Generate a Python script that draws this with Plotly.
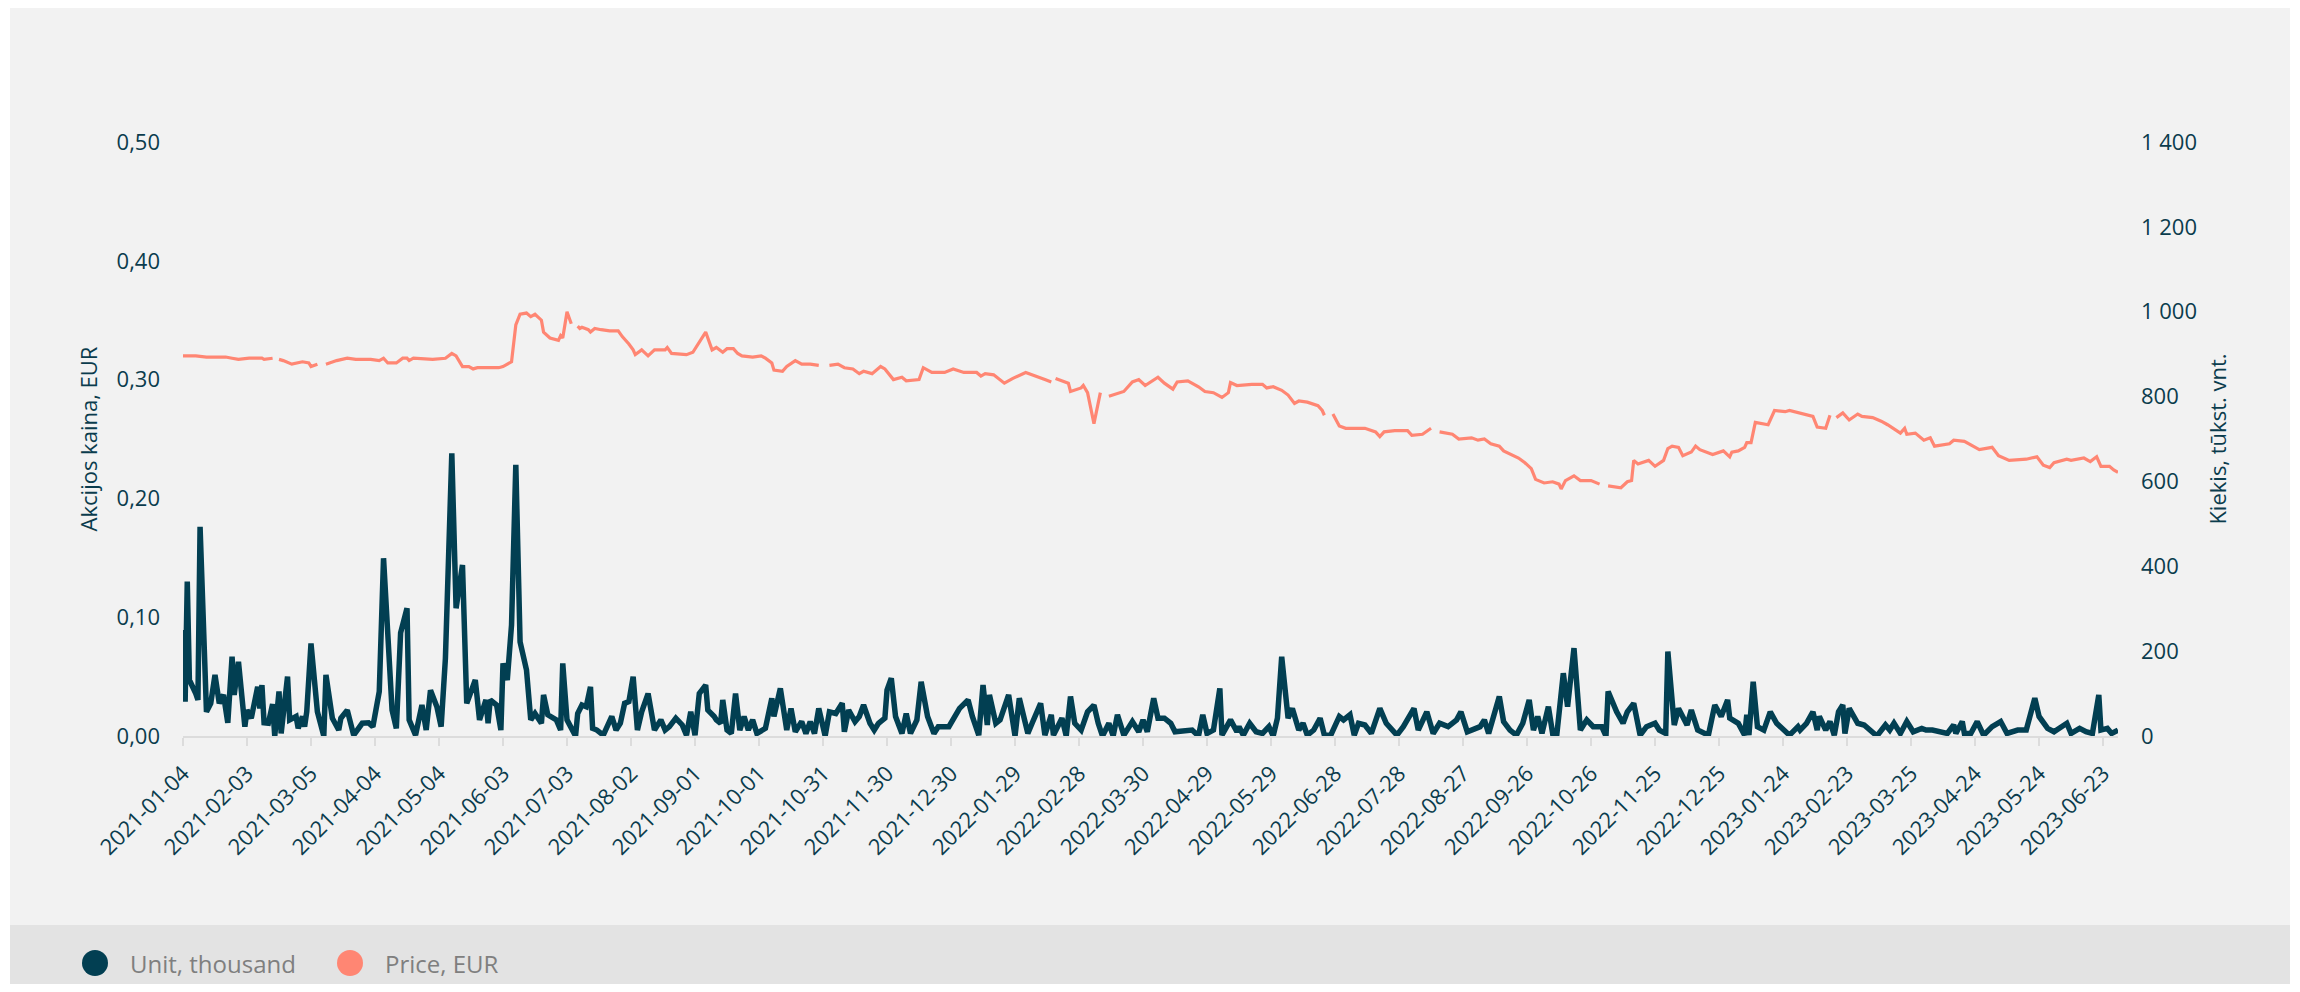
import pandas as pd
import plotly.graph_objects as go

# ---------------- data ----------------
START = "2021-01-04"

# Price, EUR  (day offset from START, value; None = no trade / gap)
price_day = [0, 6, 11, 20, 23, 26, 31, 37, 38, 42, 43, 45, 47, 51, 56, 59, 60, 63, 66, 67,
             72, 77, 81, 88, 92, 94, 96, 100, 103, 105, 106, 108, 117, 123, 126, 128, 131, 134, 136, 138,
             142, 148, 150, 154, 156, 158, 161, 163, 165, 168, 169, 172, 176, 177, 178, 180, 182, 183, 185, 186,
             187, 190, 191, 193, 196, 200, 204, 206, 209, 211, 212, 214, 215, 218, 221, 226, 227, 229, 236, 239,
             243, 245, 248, 250, 253, 255, 258, 260, 262, 267, 271, 273, 276, 277, 281, 283, 287, 290, 294, 298,
             300, 303, 307, 310, 314, 317, 319, 323, 327, 329, 333, 337, 339, 345, 347, 351, 357, 361, 366, 372,
             374, 376, 380, 385, 389, 395, 400, 404, 407, 408, 409, 415, 416, 421, 422, 424, 427, 430, 432, 434,
             441, 445, 448, 451, 457, 460, 464, 466, 471, 476, 479, 483, 487, 490, 491, 494, 501, 506, 508, 511,
             515, 518, 521, 523, 527, 532, 534, 535, 537, 539, 542, 545, 548, 550, 554, 559, 561, 563, 568, 574,
             576, 581, 584, 585, 587, 589, 595, 598, 604, 607, 610, 613, 617, 619, 626, 629, 632, 634, 638, 642,
             645, 646, 648, 652, 655, 660, 664, 666, 668, 674, 677, 679, 680, 682, 687, 690, 694, 696, 698, 701,
             703, 707, 709, 711, 717, 722, 725, 726, 729, 732, 733, 735, 737, 743, 746, 751, 753, 757, 764, 766,
             770, 772, 773, 775, 778, 781, 785, 787, 792, 796, 799, 805, 807, 808, 812, 816, 819, 821, 828, 830,
             835, 842, 848, 851, 856, 864, 869, 872, 875, 877, 883, 885, 891, 894, 897, 899, 903, 905, 907]
price_val = [0.320, 0.320, 0.319, 0.319, 0.318, 0.317, 0.318, 0.318, 0.317, 0.318, None, 0.317, 0.316, 0.313, 0.315, 0.314, 0.311, 0.313, None, 0.313,
             0.316, 0.318, 0.317, 0.317, 0.316, 0.318, 0.314, 0.314, 0.318, 0.318, 0.316, 0.318, 0.317, 0.318, 0.322, 0.320, 0.311, 0.311, 0.309, 0.310,
             0.310, 0.310, 0.311, 0.315, 0.346, 0.355, 0.356, 0.353, 0.355, 0.350, 0.340, 0.335, 0.333, 0.337, 0.335, 0.357, 0.347, None, 0.345, 0.343,
             0.344, 0.342, 0.340, 0.343, 0.342, 0.341, 0.341, 0.336, 0.330, 0.325, 0.321, 0.324, 0.325, 0.320, 0.325, 0.325, 0.327, 0.322, 0.321, 0.323,
             0.335, 0.340, 0.325, 0.327, 0.323, 0.326, 0.326, 0.322, 0.320, 0.319, 0.320, 0.318, 0.314, 0.308, 0.307, 0.311, 0.316, 0.313, 0.313, 0.312,
             None, 0.312, 0.313, 0.310, 0.309, 0.305, 0.307, 0.305, 0.311, 0.309, 0.300, 0.302, 0.299, 0.300, 0.310, 0.306, 0.306, 0.309, 0.306, 0.306,
             0.303, 0.305, 0.304, 0.297, 0.301, 0.306, 0.303, 0.300, 0.298, None, 0.301, 0.297, 0.290, 0.293, 0.295, 0.289, 0.263, 0.289, None, 0.286,
             0.290, 0.298, 0.300, 0.295, 0.302, 0.297, 0.292, 0.298, 0.299, 0.294, 0.290, 0.289, 0.285, 0.289, 0.2975, 0.295, 0.296, 0.296, 0.293, 0.294,
             0.291, 0.287, 0.280, 0.282, 0.281, 0.278, 0.274, 0.270, None, 0.271, 0.261, 0.259, 0.259, 0.2595, 0.259, 0.256, 0.252, 0.256, 0.257, 0.257,
             0.253, 0.254, 0.258, 0.259, None, 0.256, 0.254, 0.250, 0.251, 0.249, 0.250, 0.246, 0.244, 0.240, 0.234, 0.230, 0.225, 0.216, 0.213, 0.214,
             0.212, 0.208, 0.215, 0.219, 0.215, 0.215, 0.212, None, 0.2105, 0.209, 0.214, 0.215, 0.232, 0.229, 0.232, 0.227, 0.232, 0.242, 0.244, 0.243,
             0.236, 0.239, 0.244, 0.241, 0.237, 0.240, 0.235, 0.239, 0.240, 0.243, 0.247, 0.247, 0.264, 0.262, 0.274, 0.273, 0.274, 0.272, 0.269, 0.260,
             0.259, 0.270, None, 0.268, 0.272, 0.266, 0.271, 0.269, 0.268, 0.265, 0.262, 0.255, 0.259, 0.254, 0.255, 0.249, 0.251, 0.244, 0.246, 0.249,
             0.248, 0.241, 0.243, 0.236, 0.232, 0.233, 0.235, 0.228, 0.226, 0.230, 0.233, 0.232, 0.234, 0.231, 0.235, 0.227, 0.227, 0.224, 0.222]

# Unit, thousand (traded volume)
vol_day = [0, 1, 2, 3, 6, 7, 8, 10, 11, 13, 15, 17, 19, 21, 23, 24, 26, 29, 30, 32,
           35, 36, 37, 38, 40, 42, 43, 45, 46, 49, 50, 53, 54, 56, 57, 58, 60, 63, 65, 66,
           67, 70, 73, 74, 77, 79, 80, 84, 87, 89, 92, 94, 96, 98, 100, 102, 105, 106, 109, 112,
           114, 116, 119, 121, 123, 126, 128, 131, 133, 137, 139, 142, 143, 144, 147, 149, 150, 152, 154, 156,
           158, 161, 163, 165, 168, 169, 171, 175, 177, 178, 180, 184, 185, 187, 189, 191, 192, 194, 197, 200,
           201, 203, 205, 207, 209, 211, 213, 215, 218, 221, 224, 226, 228, 231, 234, 236, 238, 240, 242, 245,
           246, 249, 250, 252, 253, 255, 257, 259, 261, 263, 265, 267, 269, 273, 275, 276, 277, 280, 283, 285,
           287, 290, 292, 294, 296, 298, 301, 303, 306, 309, 310, 312, 315, 317, 319, 322, 324, 326, 329, 330,
           332, 334, 337, 339, 341, 344, 346, 349, 352, 354, 359, 364, 368, 370, 373, 375, 377, 378, 381, 383,
           387, 390, 392, 396, 398, 402, 404, 407, 408, 412, 414, 416, 418, 421, 424, 427, 429, 431, 434, 436,
           438, 441, 445, 448, 450, 452, 455, 457, 460, 463, 465, 473, 476, 478, 480, 483, 486, 487, 491, 494,
           495, 497, 500, 503, 506, 509, 511, 513, 515, 518, 520, 523, 525, 527, 530, 533, 535, 538, 542, 544,
           547, 549, 551, 554, 557, 561, 564, 569, 572, 577, 579, 583, 586, 589, 593, 597, 599, 602, 608, 610,
           612, 617, 619, 622, 625, 628, 631, 633, 635, 637, 640, 642, 644, 645, 647, 649, 652, 655, 658, 661,
           665, 667, 668, 672, 675, 677, 680, 683, 686, 690, 692, 695, 696, 699, 701, 705, 707, 710, 715, 718,
           721, 724, 725, 729, 732, 733, 734, 736, 738, 741, 744, 747, 750, 753, 757, 758, 761, 764, 766, 767,
           770, 772, 774, 776, 778, 779, 781, 783, 785, 788, 791, 794, 798, 800, 802, 805, 808, 811, 815, 817,
           820, 824, 827, 830, 831, 834, 835, 838, 841, 844, 848, 852, 855, 860, 864, 868, 870, 874, 877, 883,
           885, 889, 892, 895, 898, 899, 902, 904, 906, 907]
vol_val = [250, 81, 364, 132, 100, 85, 493, 179, 57, 77, 144, 77, 97, 31, 187, 97, 175, 22, 61, 42,
           116, 65, 120, 31, 30, 75, 0, 105, 6, 140, 38, 46, 18, 46, 22, 57, 218, 57, 14, 0,
           144, 42, 14, 42, 61, 14, 2, 30, 31, 22, 105, 419, 250, 61, 18, 243, 301, 38, 2, 73,
           14, 108, 69, 22, 183, 666, 301, 403, 77, 132, 38, 85, 30, 85, 73, 14, 171, 132, 262, 639,
           222, 156, 38, 53, 30, 97, 50, 38, 14, 171, 38, 0, 53, 73, 69, 116, 18, 14, 2, 30,
           46, 14, 30, 77, 81, 140, 14, 57, 100, 14, 38, 14, 22, 42, 26, 2, 57, 2, 100, 120,
           61, 46, 38, 30, 85, 14, 6, 100, 14, 46, 14, 38, 6, 18, 57, 89, 46, 112, 14, 65,
           10, 34, 6, 34, 6, 65, 0, 57, 53, 77, 10, 61, 34, 46, 73, 30, 14, 30, 42, 108,
           136, 46, 6, 53, 6, 38, 128, 46, 6, 22, 22, 65, 85, 46, 2, 120, 26, 97, 30, 38,
           97, 0, 89, 6, 30, 77, 2, 50, 2, 42, 0, 93, 30, 14, 57, 73, 30, 0, 30, 0,
           50, 2, 34, 10, 38, 10, 89, 42, 42, 30, 10, 14, 0, 50, 6, 14, 112, 2, 38, 10,
           22, 2, 30, 10, 6, 22, 0, 42, 187, 42, 65, 14, 30, 2, 14, 42, 2, 2, 46, 38,
           50, 2, 30, 26, 6, 65, 30, 2, 22, 65, 14, 57, 6, 30, 22, 38, 57, 10, 22, 38,
           6, 93, 34, 14, 2, 30, 85, 14, 46, 6, 69, 6, 6, 61, 148, 69, 207, 14, 38, 22,
           22, 0, 105, 57, 30, 57, 77, 2, 22, 30, 14, 6, 199, 26, 65, 26, 61, 14, 2, 73,
           46, 85, 42, 30, 2, 50, 2, 128, 22, 14, 57, 30, 14, 2, 22, 14, 30, 57, 14, 46,
           14, 34, 2, 57, 73, 6, 65, 50, 30, 26, 14, 0, 26, 14, 30, 6, 34, 10, 18, 14,
           14, 10, 6, 26, 6, 34, 6, 6, 34, 2, 22, 34, 6, 14, 14, 89, 46, 18, 10, 30,
           6, 18, 10, 6, 97, 14, 18, 6, 14, 14]

x_ticks_start = "2021-01-04"
x_range = ["2021-01-04", "2023-06-30"]
price_range = [0, 0.5]
vol_range = [0, 1400]
legend_names = ["Unit, thousand", "Price, EUR"]
left_title = "Akcijos kaina, EUR"
right_title = "Kiekis, tūkst. vnt."

# ---------------- style ----------------
VOL_COLOR = "#023F52"
PRICE_COLOR = "#FF8673"
TXT = "#0B3C4D"
FONT = "Open Sans"
CARD = "#F2F2F2"
BAND = "#E3E3E3"

start = pd.Timestamp(START)
price_x = [start + pd.Timedelta(days=d) for d in price_day]
vol_x = [start + pd.Timedelta(days=d) for d in vol_day]

W, H = 2284, 976          # figure size (body has 8px default margin)
L, R, T, B = 175, 174, 134, 248
PW, PH = W - L - R, H - T - B


def px(fx):
    return (fx - L) / PW


def py(fy):
    return (H - B - fy) / PH


fig = go.Figure()
fig.add_trace(go.Scatter(x=vol_x, y=vol_val, name=legend_names[0], mode="lines",
                         line=dict(color=VOL_COLOR, width=5.5), yaxis="y2", showlegend=False))
fig.add_trace(go.Scatter(x=price_x, y=price_val, name=legend_names[1], mode="lines",
                         line=dict(color=PRICE_COLOR, width=3.2), yaxis="y", connectgaps=False,
                         showlegend=False))

shapes = [
    dict(type="rect", xref="paper", yref="paper", x0=px(2), x1=px(2282), y0=py(990), y1=py(-2),
         fillcolor=CARD, line=dict(width=0), layer="below"),
    dict(type="rect", xref="paper", yref="paper", x0=px(2), x1=px(2282), y0=py(990), y1=py(917),
         fillcolor=BAND, line=dict(width=0), layer="below"),
]
annotations = []
legend_pos = [(87, 120), (342, 375)]
for (cx, tx), name, col in zip(legend_pos, legend_names, [VOL_COLOR, PRICE_COLOR]):
    shapes.append(dict(type="circle", xref="paper", yref="paper",
                       xsizemode="pixel", ysizemode="pixel",
                       xanchor=px(cx), yanchor=py(955), x0=-13, x1=13, y0=-13, y1=13,
                       fillcolor=col, line=dict(width=0)))
    annotations.append(dict(xref="paper", yref="paper", x=px(tx), y=py(955), text=name,
                            showarrow=False, xanchor="left", yanchor="middle",
                            font=dict(family=FONT, size=24, color="#7F7F7F")))

fig.update_layout(
    width=W, height=H,
    margin=dict(l=L, r=R, t=T, b=B),
    paper_bgcolor="white",
    plot_bgcolor="rgba(0,0,0,0)",
    separators=", ",
    showlegend=False,
    font=dict(family=FONT, size=22, color=TXT),
    shapes=shapes,
    annotations=annotations,
    xaxis=dict(
        type="date", range=x_range, tick0=x_ticks_start, dtick=30 * 86400000,
        tickformat="%Y-%m-%d", tickangle=-45,
        showgrid=False, zeroline=False,
        showline=True, linecolor="#DCDCDC", linewidth=2,
        ticks="outside", ticklen=8, tickwidth=2, tickcolor="#DCDCDC",
        tickfont=dict(family=FONT, size=22, color=TXT),
        ticklabelstandoff=6,
    ),
    yaxis=dict(
        range=price_range, dtick=0.1, tickformat=".2f",
        showgrid=False, zeroline=False, showline=False, ticks="",
        tickfont=dict(family=FONT, size=22, color=TXT),
        ticklabelstandoff=22,
        title=dict(text=left_title, font=dict(family=FONT, size=22, color=TXT), standoff=12),
    ),
    yaxis2=dict(
        range=vol_range, dtick=200, tickformat=",d", overlaying="y", side="right",
        showgrid=False, zeroline=False, showline=False, ticks="",
        tickfont=dict(family=FONT, size=22, color=TXT),
        ticklabelstandoff=22,
        title=dict(text=right_title, font=dict(family=FONT, size=22, color=TXT), standoff=14),
    ),
)

fig.write_html("out.html")
